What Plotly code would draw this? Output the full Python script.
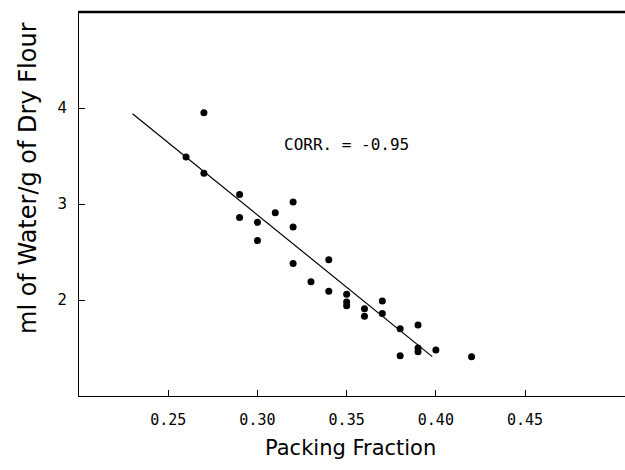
import plotly.graph_objects as go

# Data
packing_fraction = [0.27, 0.26, 0.27, 0.29, 0.29, 0.30, 0.30, 0.31, 0.32, 0.32,
                    0.32, 0.33, 0.34, 0.34, 0.35, 0.35, 0.35, 0.36, 0.36, 0.37,
                    0.37, 0.38, 0.38, 0.39, 0.39, 0.39, 0.40, 0.42]
water_ml_per_g = [3.95, 3.49, 3.32, 3.10, 2.86, 2.81, 2.62, 2.91, 3.02, 2.76,
                  2.38, 2.19, 2.42, 2.09, 2.06, 1.98, 1.94, 1.91, 1.83, 1.99,
                  1.86, 1.70, 1.42, 1.74, 1.50, 1.46, 1.48, 1.41]

fit_x = [0.23, 0.398]
fit_y = [3.94, 1.41]

x_ticks = [0.25, 0.30, 0.35, 0.40, 0.45]
x_tick_labels = ["0.25", "0.30", "0.35", "0.40", "0.45"]
y_ticks = [2, 3, 4]
y_tick_labels = ["2", "3", "4"]

corr_label = "CORR. = -0.95"
x_title = "Packing Fraction"
y_title = "ml of Water/g of Dry Flour"

fig = go.Figure()
fig.add_trace(go.Scatter(x=fit_x, y=fit_y, mode="lines",
                         line=dict(color="black", width=1.2),
                         showlegend=False, hoverinfo="skip"))
fig.add_trace(go.Scatter(x=packing_fraction, y=water_ml_per_g, mode="markers",
                         marker=dict(color="black", size=7),
                         showlegend=False))

fig.add_annotation(x=0.35, y=3.62, xref="x", yref="y", text=corr_label,
                   showarrow=False,
                   font=dict(family="DejaVu Sans Mono", size=16, color="black"))
fig.add_annotation(xref="paper", yref="paper",
                   x=(350 - 79) / 546, y=(396 - 448) / 384,
                   xanchor="center", yanchor="middle",
                   text=x_title, showarrow=False,
                   font=dict(family="DejaVu Sans", size=21, color="black"))
fig.add_annotation(xref="paper", yref="paper",
                   x=(28 - 79) / 546, y=(396 - 178) / 384,
                   xanchor="center", yanchor="middle",
                   text=y_title, textangle=-90, showarrow=False,
                   font=dict(family="DejaVu Sans", size=24, color="black"))

# top frame line of the plot box
fig.add_shape(type="line", xref="x domain", yref="y domain",
              x0=0, x1=1, y0=1, y1=1,
              line=dict(color="black", width=2.5), layer="above")

fig.update_layout(
    width=625, height=470,
    margin=dict(l=79, r=0, t=12, b=74),
    paper_bgcolor="white", plot_bgcolor="white",
    xaxis=dict(range=[0.2, 0.506], tickvals=x_ticks, ticktext=x_tick_labels,
               ticks="inside", ticklen=6, tickcolor="black", tickwidth=1,
               showline=True, linecolor="black", linewidth=1, mirror=True,
               showgrid=False, zeroline=False, ticklabelstandoff=10,
               tickfont=dict(family="DejaVu Sans Mono", size=15, color="black")),
    yaxis=dict(range=[1, 5], tickvals=y_ticks, ticktext=y_tick_labels,
               ticks="inside", ticklen=6, tickcolor="black", tickwidth=1,
               showline=True, linecolor="black", linewidth=1,
               showgrid=False, zeroline=False, ticklabelstandoff=8,
               tickfont=dict(family="DejaVu Sans", size=15, color="black")),
)

fig.write_html("out.html",
               config={"displayModeBar": False},
               post_script="document.body.style.margin='0';")
